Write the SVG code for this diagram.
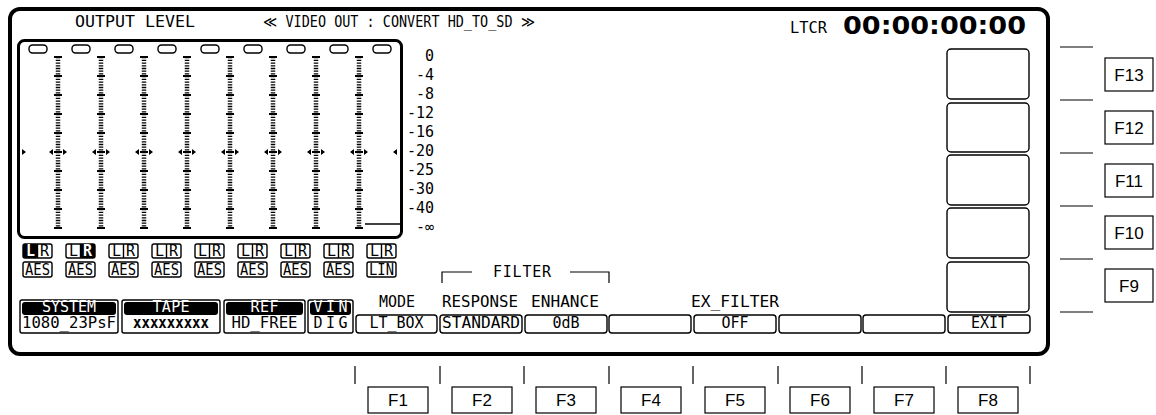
<svg xmlns="http://www.w3.org/2000/svg" width="1156" height="415" viewBox="0 0 1156 415">
<style>
.t{font-family:"DejaVu Sans Mono","Liberation Mono",monospace;fill:#000;font-size:15px}
.c{text-anchor:middle}
.e{text-anchor:end}
.w{fill:#fff}
.b{fill:none;stroke:#000;stroke-width:1.4}
.bf{fill:#fff;stroke:#000;stroke-width:1.4}
.blk{fill:#000}
.k{font-family:"Liberation Sans",Arial,sans-serif;font-size:17px;fill:#000;text-anchor:middle}
.fk{fill:#fff;stroke:#000;stroke-width:1.2}
.ln{stroke:#000;stroke-width:1.2;fill:none}
</style>
<defs>
<g id="col">
<line x1="0" y1="57" x2="0" y2="229" stroke="#000" stroke-width="4.5" stroke-dasharray="1.3 1.414"/>
<line x1="0" y1="56" x2="0" y2="230" stroke="#000" stroke-width="8" stroke-dasharray="2 17"/>
<path d="M-5,149 L-9,152 L-5,155Z M5,149 L9,152 L5,155Z" fill="#000"/>
</g>
<rect id="oval" x="-9" y="45" width="18" height="8" rx="3.5" fill="#fff" stroke="#000" stroke-width="1.4"/>
</defs>
<rect width="1156" height="415" fill="#fff"/>

<g id="screen">
<rect x="10" y="9" width="1038" height="345" rx="10" fill="none" stroke="#000" stroke-width="4"/>
<text class="t" x="75" y="27" font-size="16" textLength="120" lengthAdjust="spacingAndGlyphs">OUTPUT LEVEL</text>
<text class="t" x="263" y="27" font-size="16" textLength="272" lengthAdjust="spacingAndGlyphs">≪ VIDEO OUT : CONVERT HD_TO_SD ≫</text>
<text class="t" x="790" y="33" font-size="14" textLength="37" lengthAdjust="spacingAndGlyphs">LTCR</text>
<text x="843" y="34" font-family="'DejaVu Sans','Liberation Sans',sans-serif" font-size="24" font-weight="bold" textLength="183" lengthAdjust="spacingAndGlyphs">00:00:00:00</text>
</g>

<g id="meter">
<rect x="18.5" y="40.5" width="383" height="197" rx="6" fill="none" stroke="#000" stroke-width="3"/>
<use href="#oval" x="38"/><use href="#oval" x="81"/><use href="#oval" x="124"/><use href="#oval" x="167"/><use href="#oval" x="210"/><use href="#oval" x="253"/><use href="#oval" x="296"/><use href="#oval" x="339"/><use href="#oval" x="382"/>
<use href="#col" x="58"/><use href="#col" x="101"/><use href="#col" x="144"/><use href="#col" x="187"/><use href="#col" x="230"/><use href="#col" x="273"/><use href="#col" x="316"/><use href="#col" x="359"/>
<path d="M22,149 L26,152 L22,155Z M397,149 L393,152 L397,155Z" fill="#000"/>
<line x1="365" y1="224" x2="400" y2="224" stroke="#000" stroke-width="1.5"/>
</g>

<g id="scale">
<text class="t e" font-size="14" x="434" y="61">0</text>
<text class="t e" font-size="14" x="434" y="80">-4</text>
<text class="t e" font-size="14" x="434" y="99">-8</text>
<text class="t e" font-size="14" x="434" y="118">-12</text>
<text class="t e" font-size="14" x="434" y="137">-16</text>
<text class="t e" font-size="14" x="434" y="156">-20</text>
<text class="t e" font-size="14" x="434" y="175">-25</text>
<text class="t e" font-size="14" x="434" y="194">-30</text>
<text class="t e" font-size="14" x="434" y="213">-40</text>
<text class="t e" font-size="14" x="434" y="232">-∞</text>
</g>

<g id="channels">
<rect x="23" y="244" width="14.5" height="14" rx="2" class="blk"/>
<rect x="80.5" y="244" width="14.5" height="14" rx="2" class="blk"/>
<g class="b">
<rect x="23" y="244" width="29" height="14" rx="2"/><rect x="66" y="244" width="29" height="14" rx="2"/><rect x="109" y="244" width="29" height="14" rx="2"/><rect x="152" y="244" width="29" height="14" rx="2"/><rect x="195" y="244" width="29" height="14" rx="2"/><rect x="238" y="244" width="29" height="14" rx="2"/><rect x="281" y="244" width="29" height="14" rx="2"/><rect x="324" y="244" width="29" height="14" rx="2"/><rect x="367" y="244" width="29" height="14" rx="2"/>
<path d="M37.5,244V258M80.5,244V258M123.5,244V258M166.5,244V258M209.5,244V258M252.5,244V258M295.5,244V258M338.5,244V258M381.5,244V258"/>
<rect x="23" y="262" width="29" height="15" rx="2"/><rect x="66" y="262" width="29" height="15" rx="2"/><rect x="109" y="262" width="29" height="15" rx="2"/><rect x="152" y="262" width="29" height="15" rx="2"/><rect x="195" y="262" width="29" height="15" rx="2"/><rect x="238" y="262" width="29" height="15" rx="2"/><rect x="281" y="262" width="29" height="15" rx="2"/><rect x="324" y="262" width="29" height="15" rx="2"/><rect x="367" y="262" width="29" height="15" rx="2"/>
</g>
<g>
<text x="30.5" y="256" class="t c w" font-size="14" font-weight="bold">L</text><text x="44.5" y="256" class="t c" font-size="14">R</text>
<text x="73.5" y="256" class="t c" font-size="14">L</text><text x="87.5" y="256" class="t c w" font-size="14" font-weight="bold">R</text>
<text x="116.5" y="256" class="t c" font-size="14">L</text><text x="130.5" y="256" class="t c" font-size="14">R</text>
<text x="159.5" y="256" class="t c" font-size="14">L</text><text x="173.5" y="256" class="t c" font-size="14">R</text>
<text x="202.5" y="256" class="t c" font-size="14">L</text><text x="216.5" y="256" class="t c" font-size="14">R</text>
<text x="245.5" y="256" class="t c" font-size="14">L</text><text x="259.5" y="256" class="t c" font-size="14">R</text>
<text x="288.5" y="256" class="t c" font-size="14">L</text><text x="302.5" y="256" class="t c" font-size="14">R</text>
<text x="331.5" y="256" class="t c" font-size="14">L</text><text x="345.5" y="256" class="t c" font-size="14">R</text>
<text x="374.5" y="256" class="t c" font-size="14">L</text><text x="388.5" y="256" class="t c" font-size="14">R</text>
</g>
<g>
<text x="37.5" y="275" class="t c" font-size="15" textLength="25" lengthAdjust="spacingAndGlyphs">AES</text>
<text x="80.5" y="275" class="t c" font-size="15" textLength="25" lengthAdjust="spacingAndGlyphs">AES</text>
<text x="123.5" y="275" class="t c" font-size="15" textLength="25" lengthAdjust="spacingAndGlyphs">AES</text>
<text x="166.5" y="275" class="t c" font-size="15" textLength="25" lengthAdjust="spacingAndGlyphs">AES</text>
<text x="209.5" y="275" class="t c" font-size="15" textLength="25" lengthAdjust="spacingAndGlyphs">AES</text>
<text x="252.5" y="275" class="t c" font-size="15" textLength="25" lengthAdjust="spacingAndGlyphs">AES</text>
<text x="295.5" y="275" class="t c" font-size="15" textLength="25" lengthAdjust="spacingAndGlyphs">AES</text>
<text x="338.5" y="275" class="t c" font-size="15" textLength="25" lengthAdjust="spacingAndGlyphs">AES</text>
<text x="381.5" y="275" class="t c" font-size="15" textLength="25" lengthAdjust="spacingAndGlyphs">LIN</text>
</g>
</g>

<g id="status-system">
<rect x="20" y="300" width="98" height="33" rx="2" class="bf"/>
<rect x="22" y="302" width="94" height="13" rx="3" class="blk"/>
<text x="69" y="311.5" class="t c w" font-size="11.5" textLength="54" lengthAdjust="spacing">SYSTEM</text>
<text x="69" y="327.5" class="t c" font-size="12.5" textLength="94" lengthAdjust="spacingAndGlyphs">1080_23PsF</text>
</g>
<g id="status-tape">
<rect x="122" y="300" width="98" height="33" rx="2" class="bf"/>
<rect x="124" y="302" width="94" height="13" rx="3" class="blk"/>
<text x="171" y="311.5" class="t c w" font-size="11.5" textLength="37" lengthAdjust="spacing">TAPE</text>
<text x="171" y="328" class="t c" font-size="11" font-weight="bold" textLength="76" lengthAdjust="spacingAndGlyphs">xxxxxxxxx</text>
</g>
<g id="status-ref">
<rect x="224" y="300" width="81" height="33" rx="2" class="bf"/>
<rect x="226" y="302" width="77" height="13" rx="3" class="blk"/>
<text x="264.5" y="311.5" class="t c w" font-size="11.5" textLength="28" lengthAdjust="spacing">REF</text>
<text x="264.5" y="327.5" class="t c" font-size="12.5" textLength="66" lengthAdjust="spacingAndGlyphs">HD_FREE</text>
</g>
<g id="status-vin">
<rect x="308" y="300" width="45" height="33" rx="2" class="bf"/>
<rect x="310" y="302" width="41" height="13" rx="3" class="blk"/>
<text x="330.5" y="311.5" class="t c w" font-size="11.5" textLength="34" lengthAdjust="spacing">VIN</text>
<text x="330.5" y="327.5" class="t c" font-size="12.5" textLength="34" lengthAdjust="spacing">DIG</text>
</g>

<g id="labels">
<text x="397" y="307" class="t c" font-size="15">MODE</text>
<path class="ln" d="M442,283V272H472M570,272H609V283"/>
<text x="522" y="277" class="t c" font-size="15" textLength="58" lengthAdjust="spacing">FILTER</text>
<text x="480" y="307" class="t c" font-size="15" textLength="76" lengthAdjust="spacingAndGlyphs">RESPONSE</text>
<text x="565" y="307" class="t c" font-size="15" textLength="68" lengthAdjust="spacingAndGlyphs">ENHANCE</text>
<text x="735" y="307" class="t c" font-size="15" textLength="88" lengthAdjust="spacingAndGlyphs">EX_FILTER</text>
</g>

<g id="btn-f1"><rect x="356" y="315" width="81" height="18" rx="3" class="bf"/><text x="396.5" y="328" class="t c" font-size="14.5">LT_BOX</text></g>
<g id="btn-f2"><rect x="440" y="315" width="82" height="18" rx="3" class="bf"/><text x="481" y="328" class="t c" font-size="14.5" textLength="78" lengthAdjust="spacingAndGlyphs">STANDARD</text></g>
<g id="btn-f3"><rect x="525" y="315" width="82" height="18" rx="3" class="bf"/><text x="566" y="328" class="t c" font-size="14.5">0dB</text></g>
<g id="btn-f4"><rect x="609" y="315" width="82" height="18" rx="3" class="bf"/></g>
<g id="btn-f5"><rect x="694" y="315" width="82" height="18" rx="3" class="bf"/><text x="735" y="328" class="t c" font-size="14.5">OFF</text></g>
<g id="btn-f6"><rect x="779" y="315" width="82" height="18" rx="3" class="bf"/></g>
<g id="btn-f7"><rect x="863" y="315" width="82" height="18" rx="3" class="bf"/></g>
<g id="btn-f8"><rect x="948" y="315" width="82" height="18" rx="3" class="bf"/><text x="989" y="328" class="t c" font-size="14.5">EXIT</text></g>

<g id="btn-f13"><rect x="947" y="49" width="82" height="50" rx="4" class="bf"/></g>
<g id="btn-f12"><rect x="947" y="103" width="82" height="49" rx="4" class="bf"/></g>
<g id="btn-f11"><rect x="947" y="155" width="82" height="50" rx="4" class="bf"/></g>
<g id="btn-f10"><rect x="947" y="208" width="82" height="50" rx="4" class="bf"/></g>
<g id="btn-f9"><rect x="947" y="262" width="82" height="50" rx="4" class="bf"/></g>

<g id="connectors" class="ln">
<path d="M355,366V384M440,366V384M524,366V384M609,366V384M693,366V384M778,366V384M862,366V384M946,366V384M1030,366V384"/>
<path d="M1060,47H1093M1060,100H1093M1060,153H1093M1060,206H1093M1060,259H1093M1060,312H1093"/>
</g>

<g id="key-f1"><rect x="368" y="387" width="60" height="26" class="fk"/><text x="398" y="406" class="k">F1</text></g>
<g id="key-f2"><rect x="452" y="387" width="60" height="26" class="fk"/><text x="482" y="406" class="k">F2</text></g>
<g id="key-f3"><rect x="536" y="387" width="60" height="26" class="fk"/><text x="566" y="406" class="k">F3</text></g>
<g id="key-f4"><rect x="621" y="387" width="60" height="26" class="fk"/><text x="651" y="406" class="k">F4</text></g>
<g id="key-f5"><rect x="705" y="387" width="60" height="26" class="fk"/><text x="735" y="406" class="k">F5</text></g>
<g id="key-f6"><rect x="790" y="387" width="60" height="26" class="fk"/><text x="820" y="406" class="k">F6</text></g>
<g id="key-f7"><rect x="874" y="387" width="60" height="26" class="fk"/><text x="904" y="406" class="k">F7</text></g>
<g id="key-f8"><rect x="958" y="387" width="60" height="26" class="fk"/><text x="988" y="406" class="k">F8</text></g>

<g id="key-f13"><rect x="1105" y="58" width="48" height="33" class="fk"/><text x="1129" y="81" class="k">F13</text></g>
<g id="key-f12"><rect x="1105" y="111" width="48" height="33" class="fk"/><text x="1129" y="134" class="k">F12</text></g>
<g id="key-f11"><rect x="1105" y="164" width="48" height="33" class="fk"/><text x="1129" y="187" class="k">F11</text></g>
<g id="key-f10"><rect x="1105" y="216" width="48" height="33" class="fk"/><text x="1129" y="239" class="k">F10</text></g>
<g id="key-f9"><rect x="1105" y="269" width="48" height="33" class="fk"/><text x="1129" y="292" class="k">F9</text></g>
</svg>
